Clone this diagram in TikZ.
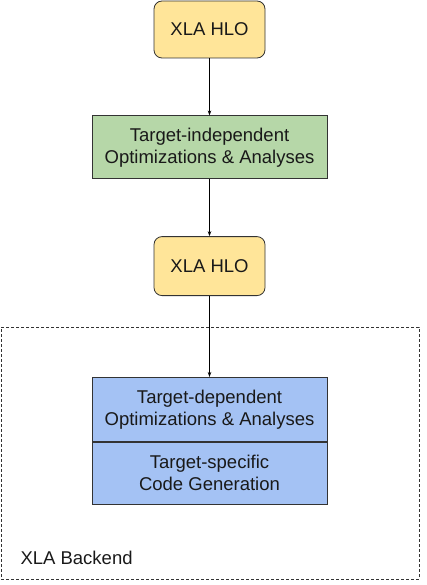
\documentclass[tikz,border=0pt]{standalone}
\usepackage{fontspec}
\setmainfont{Liberation Sans}
\usepackage{xcolor}
\usepackage{tikz}
\usetikzlibrary{positioning, arrows.meta}

\definecolor{hloamarillo}{HTML}{FFE599}
\definecolor{optverde}{HTML}{B6D7A8}
\definecolor{backazul}{HTML}{A4C2F4}
\definecolor{borde}{HTML}{333333}

\begin{document}
\begin{tikzpicture}[x=1pt, y=1pt,
  every node/.style={font=\fontsize{18.5}{22}\selectfont, align=center, text=black!90},
  hlo/.style={draw=borde, line width=0.8pt, rounded corners=8pt, fill=hloamarillo,
    minimum width=111pt, minimum height=57pt, inner sep=0pt},
  caja/.style={draw=borde, line width=0.8pt, minimum width=235pt, inner sep=0pt},
  flecha/.style={draw=black, line width=0.7pt, -{Stealth[length=5pt, width=3.5pt]}}]
  \useasboundingbox (0,0) rectangle (427,-585);

  % Nodo de arriba
  \node[hlo] (hlo1) at (209.5,-29.5) {XLA HLO};

  % Optimizaciones independientes
  \node[caja, fill=optverde, minimum height=63pt, below=57pt of hlo1] (indep)
    {Target-independent\\Optimizations \& Analyses};

  % Segundo HLO
  \node[hlo, minimum height=59pt, below=57pt of indep] (hlo2) {XLA HLO};

  % Backend (dos cajas pegadas)
  \node[caja, fill=backazul, minimum height=64pt, below=81pt of hlo2] (dep)
    {Target-dependent\\Optimizations \& Analyses};
  \node[caja, fill=backazul, minimum height=62pt, below=0pt of dep] (codegen)
    {Target-specific\\Code Generation};

  % Marco punteado
  \node[draw=borde, line width=0.7pt, dash pattern=on 3pt off 2pt,
    minimum width=418pt, minimum height=252pt, inner sep=0pt] (backend) at (210,-453) {};
  \node[anchor=base west] (backendlbl) at (17,-564) {XLA Backend};

  % Conexiones
  \draw[flecha] (hlo1) -- (indep);
  \draw[flecha] (indep) -- (hlo2);
  \draw[flecha] (hlo2) -- (dep);
\end{tikzpicture}
\end{document}
